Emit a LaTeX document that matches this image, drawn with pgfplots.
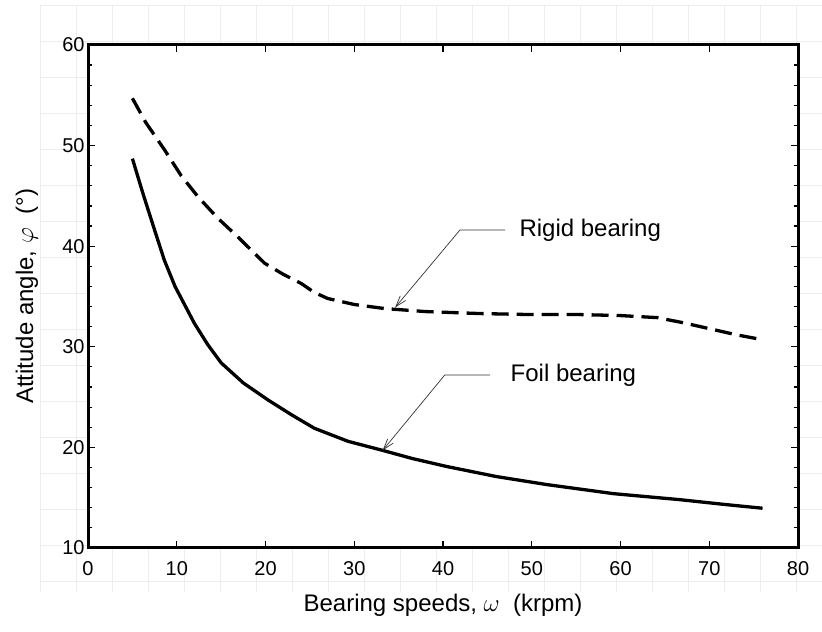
\documentclass[border=0pt]{standalone}
\usepackage{pgfplots}
\pgfplotsset{compat=1.18}
\usepackage{fontspec}
\setmainfont{Liberation Sans}
\usetikzlibrary{arrows.meta}
\definecolor{sheetgrid}{HTML}{EDEDED}

\begin{document}
\begin{tikzpicture}
% faint worksheet grid behind the chart (1pt = 1px, axis box lower left at origin)
\begin{scope}[x=1pt, y=1pt, shift={(-88pt,548pt)}, yscale=-1]
  \foreach \k in {0,...,21} {
    \draw[sheetgrid, line width=1pt] (40.7+36*\k,5) -- (40.7+36*\k,592);
  }
  \foreach \k in {0,...,16} {
    \draw[sheetgrid, line width=1pt] (40,5.7+36*\k) -- (822,5.7+36*\k);
  }
\end{scope}
\begin{axis}[
    width=710pt, height=503pt,
    scale only axis,
    axis background/.style={fill=white},
    xmin=0, xmax=80,
    ymin=10, ymax=60,
    xtick={0,10,...,80},
    ytick={10,20,...,60},
    minor y tick num=4,
    tick align=inside,
    xtick pos=both,
    ytick pos=both,
    xticklabel pos=lower,
    yticklabel pos=left,
    major tick length=7pt,
    minor tick length=4pt,
    every tick/.style={black, line width=1.2pt},
    axis line style={line width=3pt},
    /pgf/number format/assume math mode=true,
    tick label style={font=\fontsize{20}{22}\selectfont},
    xticklabel style={yshift=-10pt},
    xlabel={Bearing speeds, $\omega$ ~(krpm)},
    ylabel={Attitude angle, $\varphi$ ~(°)},
    label style={font=\fontsize{24}{27}\selectfont},
    xlabel style={at={(axis description cs:0.5,-0.113)}, anchor=center},
    ylabel style={at={(axis description cs:-0.086,0.5)}, anchor=center},
    clip=false,
]
% rigid bearing
\addplot[black, line width=3.3pt, dash pattern=on 17pt off 8pt] coordinates {
    (5,54.7) (6.5,52.3) (8.6,49.6) (10.5,47.0) (12.4,44.9) (14.6,42.8)
    (16.9,40.9) (19.9,38.3) (22,37.2) (24.0,36.3) (25.5,35.4) (27.0,34.8)
    (30.0,34.2) (33.4,33.8) (38,33.5) (44.2,33.3) (50,33.2) (55.4,33.2)
    (60,33.1) (64.1,32.9) (67,32.4) (70.5,31.7) (73,31.2) (76,30.7)
};
% foil bearing
\addplot[black, line width=3.3pt] coordinates {
    (5,48.7) (6.2,45.2) (7.5,41.6) (8.6,38.6) (9.8,36.0) (12.0,32.3)
    (13.5,30.2) (15.0,28.4) (17.5,26.4) (20.3,24.7) (23,23.2) (25.5,21.9)
    (29.3,20.6) (33.2,19.7) (36.5,18.9) (40.4,18.1) (46.0,17.1)
    (51.7,16.3) (59.2,15.4) (66.7,14.8) (72,14.3) (76,13.95)
};
% annotations
\draw[line width=0.7pt, black!80, -{Straight Barb[length=11pt, width=7pt, line width=0.7pt]}]
    (axis cs:47.0,41.6) -- (axis cs:41.9,41.6) -- (axis cs:34.6,33.9);
\node[anchor=west, font=\fontsize{24}{27}\selectfont, inner sep=0pt]
    at (axis cs:48.6,41.6) {Rigid bearing};
\draw[line width=0.7pt, black!80, -{Straight Barb[length=11pt, width=7pt, line width=0.7pt]}]
    (axis cs:45.3,27.2) -- (axis cs:40.2,27.2) -- (axis cs:33.2,19.7);
\node[anchor=west, font=\fontsize{24}{27}\selectfont, inner sep=0pt]
    at (axis cs:47.6,27.2) {Foil bearing};
\coordinate (bl) at (axis cs:-9.92,1.65);
\coordinate (tr) at (axis cs:82.7,64.47);
\end{axis}
\pgfresetboundingbox
\path (bl) rectangle (tr);
\end{tikzpicture}
\end{document}
